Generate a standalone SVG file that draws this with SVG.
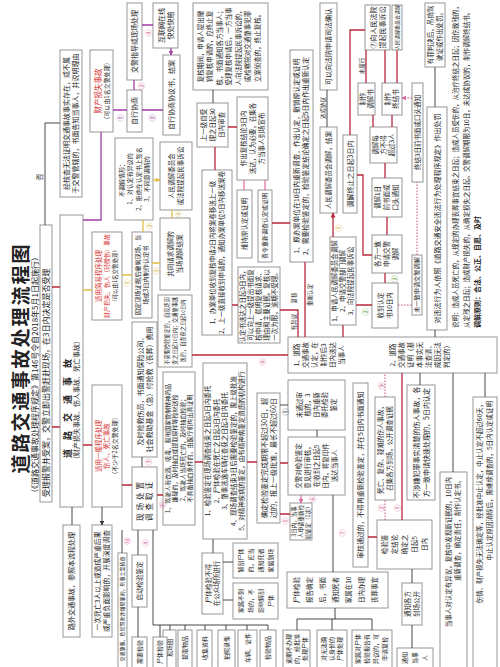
<svg xmlns="http://www.w3.org/2000/svg" width="500" height="667" viewBox="0 0 500 667">
<defs>
<style>
.b{fill:#fff;stroke:#8c8c8c;stroke-width:0.9}
.t{font-family:"Noto Sans CJK SC","Noto Sans CJK JP",sans-serif;font-size:6.5px;fill:#222;text-anchor:middle}
.s{text-anchor:start}
.e{text-anchor:end}
.r{fill:#d42a2a}
.lr{stroke:#b8283c;stroke-width:1.3;fill:none}
.lp{stroke:#a23ca6;stroke-width:1.3;fill:none}
.ly{stroke:#e2bd45;stroke-width:1.3;fill:none}
.lk{stroke:#333;stroke-width:0.9;fill:none}
.li{stroke:#d9609a;stroke-width:1.1;fill:none}
.ld{stroke:#c8507a;stroke-width:1;stroke-dasharray:1.5 1.5;fill:none}
.c{font-family:"Noto Sans CJK SC","Noto Sans CJK JP",sans-serif;font-size:7px;fill:#d9609a;text-anchor:middle}
.cy{fill:#d9b030}
.cp{fill:#a23ca6}
</style>
<marker id="ar" viewBox="0 0 10 10" refX="9" refY="5" markerWidth="5" markerHeight="5" markerUnits="userSpaceOnUse" orient="auto"><path d="M0,0L10,5L0,10z" fill="#b8283c"/></marker>
<marker id="ap" viewBox="0 0 10 10" refX="9" refY="5" markerWidth="5" markerHeight="5" markerUnits="userSpaceOnUse" orient="auto"><path d="M0,0L10,5L0,10z" fill="#a23ca6"/></marker>
<marker id="ay" viewBox="0 0 10 10" refX="9" refY="5" markerWidth="5" markerHeight="5" markerUnits="userSpaceOnUse" orient="auto"><path d="M0,0L10,5L0,10z" fill="#e2bd45"/></marker>
<marker id="ak" viewBox="0 0 10 10" refX="9" refY="5" markerWidth="4.5" markerHeight="4.5" markerUnits="userSpaceOnUse" orient="auto"><path d="M0,0L10,5L0,10z" fill="#333"/></marker>
<marker id="ai" viewBox="0 0 10 10" refX="9" refY="5" markerWidth="4.5" markerHeight="4.5" markerUnits="userSpaceOnUse" orient="auto"><path d="M0,0L10,5L0,10z" fill="#d9609a"/></marker>
</defs>
<rect width="500" height="667" fill="#fff"/>

<g id="header">
<text class="t" style="font-size:19px;font-weight:700;letter-spacing:2px" transform="translate(27.6,358) rotate(-90)">道路交通事故处理流程图</text>
<text class="t s" style="font-size:8px" transform="translate(37.8,497) rotate(-90)">（《道路交通事故处理程序规定》第146号令自2018年5月1日起施行）</text>
</g>

<g id="n-slbj"><rect class="b" x="40" y="225" width="12" height="277"/><text class="t s" style="font-size:8px" transform="translate(48.8,497) rotate(-90)">受理报警并受案，交警立即出警赶赴现场，在3日内决定是否受理</text></g>
<g id="n-hc"><rect class="b" x="60" y="50" width="22" height="147"/><text class="t" style="font-size:7px" transform="translate(69,123.5) rotate(-90)"><tspan x="0" y="0">经核查无法证明交通事故事实存在，或不属</tspan><tspan x="0" y="9">于交警管辖的，书面告知当事人，并说明理由</tspan></text></g>
<g id="n-sg"><rect class="b" x="60" y="215" width="23" height="292"/><text class="t" style="font-size:9px;font-weight:700;letter-spacing:9px" transform="translate(70.6,404) rotate(-90)">道路交通事故</text><text class="t" style="font-size:7px" transform="translate(79.4,400) rotate(-90)">（财产损失事故、伤人事故、死亡事故）</text></g>
<g id="n-cc"><rect class="b" x="90" y="50" width="23" height="82"/><text class="t r" style="font-size:7.5px" transform="translate(100.6,91) rotate(-90)">财产损失事故</text><text class="t" style="font-size:6px" transform="translate(108.6,91) rotate(-90)">（可以由1名交警处理）</text></g>
<g id="n-jy"><rect class="b" x="92" y="232" width="30" height="88"/><text class="t r" transform="translate(101.3,276) rotate(-90)">适用简易程序处理</text><text class="t r" style="font-size:6px" transform="translate(109.1,276) rotate(-90)">财产损失、伤人（轻微伤）事故</text><text class="t" style="font-size:5.5px" transform="translate(116.9,276) rotate(-90)">（可以由1名交警处理）</text></g>
<g id="n-yb"><rect class="b" x="92" y="385" width="30" height="122"/><text class="t r" transform="translate(101.3,446) rotate(-90)">适用一般程序处理</text><text class="t r" transform="translate(109.3,446) rotate(-90)">伤人、死亡事故</text><text class="t" style="font-size:6px" transform="translate(117.1,446) rotate(-90)">（不少于2名交警处理）</text></g>
<g id="n-zd"><rect class="b" x="127" y="3" width="15" height="77"/><text class="t" style="font-size:7px" transform="translate(137,41.5) rotate(-90)">交警指导或现场处理</text></g>
<g id="n-zx"><rect class="b" x="127" y="90" width="15" height="42"/><text class="t" style="font-size:7px" transform="translate(137,111) rotate(-90)">自行协商</text></g>
<g id="n-hl"><rect class="b" x="153" y="3" width="25" height="45"/><text class="t" style="font-size:7px" transform="translate(163.5,25.5) rotate(-90)"><tspan x="0" y="0">互联网在线</tspan><tspan x="0" y="9">快处快赔</tspan></text></g>
<g id="n-xy"><rect class="b" x="163" y="55" width="17" height="80"/><text class="t" style="font-size:7px" transform="translate(174,95) rotate(-90)">自行协商协议书，结案</text></g>
<g id="n-btj"><rect class="b" x="115" y="138" width="38" height="82"/><text class="t" style="font-size:6px" transform="translate(123.6,179) rotate(-90)"><tspan x="0" y="0">不调解情形：</tspan><tspan x="0" y="8.5">1、对认定有异议的</tspan><tspan x="0" y="17">2、拒绝在认定书上签名</tspan><tspan x="0" y="25.5">3、不同意调解的</tspan></text></g>
<g id="n-gd"><rect class="b" x="132" y="232" width="20" height="86"/><text class="t" style="font-size:6.2px" transform="translate(140.2,275) rotate(-90)"><tspan x="0" y="0">固定现场证据后撤离现场，当</tspan><tspan x="0" y="8">场或3日内制作认定书</tspan></text></g>
<g id="n-rt"><rect class="b" x="160" y="142" width="32" height="68"/><text class="t" transform="translate(173.8,176) rotate(-90)"><tspan x="0" y="0">人民调解委员会</tspan><tspan x="0" y="9">或法院提起民事诉讼</tspan></text></g>
<g id="n-gt"><rect class="b" x="160" y="218" width="30" height="72"/><text class="t" transform="translate(172.8,254) rotate(-90)"><tspan x="0" y="0">共同请求调解的</tspan><tspan x="0" y="9">当场调解结案</tspan></text></g>
<g id="n-bx"><rect class="b" x="158" y="295" width="34" height="72"/><text class="t" style="font-size:5.2px" transform="translate(168.8,331) rotate(-90)"><tspan x="0" y="0">不需要检验鉴定的，自现场调</tspan><tspan x="0" y="8">查之日起10日内；交通肇事逃</tspan><tspan x="0" y="16">逸的，自查获之日起10日内</tspan></text></g>
<g id="n-jq"><rect class="b" x="132" y="322" width="25" height="135"/><text class="t" style="font-size:7px" transform="translate(142.5,389.5) rotate(-90)"><tspan x="0" y="0">及时抢救伤员，书面通知保险公司、</tspan><tspan x="0" y="9">社会救助基金（急）付抢救（丧葬）费用</tspan></text></g>
<g id="n-xc"><rect class="b" x="132" y="467" width="25" height="63"/><text class="t" style="font-size:7.5px;letter-spacing:3px" transform="translate(142.6,500) rotate(-90)"><tspan x="0" y="0">现场处置</tspan><tspan x="0" y="9">调查取证</tspan></text></g>
<g id="n-jsr"><rect class="b" x="163" y="372" width="32" height="153"/><text class="t" style="font-size:6px" transform="translate(169.9,448.5) rotate(-90)"><tspan x="0" y="0">1、驾驶人有饮酒、吸毒、服用国家管制精神药品</tspan><tspan x="0" y="7.5">嫌疑的，及时抽血或提取尿样等检材送检</tspan><tspan x="0" y="15">2、驾驶人当场死亡的，及时抽血检验；</tspan><tspan x="0" y="22.5">不具备抽血条件的，由医疗机构出具证明</tspan></text></g>
<g id="n-5x"><rect class="b" x="203" y="363" width="44" height="176"/><text class="t" transform="translate(210.3,451) rotate(-90)"><tspan x="0" y="0">1、检验鉴定在现场调查结束之日起3日内委托</tspan><tspan x="0" y="8.5">2、尸体检验在死亡之日起3日内委托</tspan><tspan x="0" y="17">3、肇事逃逸车辆在查获之日起3日内委托</tspan><tspan x="0" y="25.5">4、现场调查结束3日后需要检验鉴定的，需上级批准</tspan><tspan x="0" y="34">5、对精神疾病的鉴定，由有精神病鉴定资质的机构进行</tspan></text></g>
<g id="n-qd"><rect class="b" x="257" y="393" width="23" height="130"/><text class="t" style="font-size:7px" transform="translate(266.5,458) rotate(-90)"><tspan x="0" y="0">确定检验鉴定完成期限不超过30日，超</tspan><tspan x="0" y="9">过的，报上一级批准，最长不超过60日</tspan></text></g>
<g id="n-sj"><rect class="b" x="202" y="553" width="21" height="61"/><text class="t" transform="translate(210.5,583.5) rotate(-90)"><tspan x="0" y="0">尸体检验不得</tspan><tspan x="0" y="8.5">在公众场所进行</tspan></text></g>
<g id="n-jp1"><rect class="b" x="233" y="543" width="45" height="35"/><text class="t" style="font-size:6px" transform="translate(242.6,560.5) rotate(-90)"><tspan x="0" y="0">解剖尸体</tspan><tspan x="0" y="10">的，应当</tspan><tspan x="0" y="20">通知死者</tspan><tspan x="0" y="30">家属到场</tspan></text></g>
<g id="n-jp2"><rect class="b" x="233" y="583" width="45" height="36"/><text class="t" style="font-size:6px" transform="translate(242.6,601) rotate(-90)"><tspan x="0" y="0">家属不到</tspan><tspan x="0" y="10">场的，不</tspan><tspan x="0" y="20">影响解剖</tspan><tspan x="0" y="30">尸体</tspan></text></g>
<g id="n-bot1"><rect class="b" x="163" y="630" width="13" height="40"/><text class="t" style="font-size:6px" transform="translate(171.6,648) rotate(-90)">现场图</text></g>
<g id="n-bot2"><rect class="b" x="178" y="630" width="14" height="40"/><text class="t" style="font-size:6px" transform="translate(187.1,648) rotate(-90)">提取物品</text></g>
<g id="n-bot3"><rect class="b" x="197" y="630" width="15" height="40"/><text class="t" style="font-size:6px" transform="translate(206.6,648) rotate(-90)">收集资料</text></g>
<g id="n-bot4"><rect class="b" x="218" y="630" width="17" height="40"/><text class="t" style="font-size:6px" transform="translate(228.6,648) rotate(-90)">拍照录像</text></g>
<g id="n-bot5"><rect class="b" x="238" y="630" width="19" height="40"/><text class="t" style="font-size:6px" transform="translate(249.6,648) rotate(-90)">车辆、证件</text></g>
<g id="n-bot6"><rect class="b" x="260" y="630" width="16" height="40"/><text class="t" style="font-size:6px" transform="translate(270.1,648) rotate(-90)">检验物品</text></g>
<g id="n-xs"><rect class="b" x="118" y="553" width="9" height="117"/><text class="t" style="font-size:5px" transform="translate(124.25,609) rotate(-90)">交通肇事、危险驾驶涉嫌犯罪的，刑事立案侦查</text></g>
<g id="n-qj"><rect class="b" x="132" y="555" width="15" height="52"/><text class="t" transform="translate(141.8,581) rotate(-90)">启动检验鉴定</text></g>
<g id="n-xj"><rect class="b" x="132" y="637" width="15" height="33"/><text class="t" style="font-size:6px" transform="translate(141.6,652) rotate(-90)">需要检验</text></g>
<g id="n-st"><rect class="b" x="153" y="637" width="14" height="33"/><text class="t" style="font-size:6px" transform="translate(162.1,652) rotate(-90)">尸体检验</text></g>
<g id="n-lw"><rect class="b" x="63" y="525" width="17" height="112"/><text class="t" style="font-size:7px" transform="translate(74,581) rotate(-90)">路外交通事故，参照本流程处理</text></g>
<g id="n-ys"><rect class="b" x="92" y="525" width="20" height="112"/><text class="t" style="font-size:6.8px" transform="translate(100.1,581) rotate(-90)"><tspan x="0" y="0">一次死亡3人以上或造成严重后果</tspan><tspan x="0" y="8.5">或严重负面影响的，开展深度调查</tspan></text></g>
<g id="n-fhqj"><rect class="b" x="193" y="3" width="75" height="87"/><text class="t" transform="translate(202.8,46.5) rotate(-90)"><tspan x="0" y="0">复核期间，申请人提出撤</tspan><tspan x="0" y="9.5">销复核申请的，应终止复</tspan><tspan x="0" y="19">核，书面通知各方当事人；</tspan><tspan x="0" y="28.5">受理复核申请后，一方当事</tspan><tspan x="0" y="38">人向法院提起民事诉讼的，</tspan><tspan x="0" y="47.5">或检察院对交通肇事犯罪</tspan><tspan x="0" y="57">立案侦查的，终止复核。</tspan></text></g>
<g id="n-sjy"><rect class="b" x="197" y="103" width="31" height="44"/><text class="t" transform="translate(205.8,125) rotate(-90)"><tspan x="0" y="0">上一级自受</tspan><tspan x="0" y="9">理之日起30</tspan><tspan x="0" y="18">日内审查</tspan></text></g>
<g id="n-zcfh"><rect class="b" x="237" y="97" width="31" height="83"/><text class="t" transform="translate(245.8,138.5) rotate(-90)"><tspan x="0" y="0">作出复核结论3日内</tspan><tspan x="0" y="9">送达，认为必要，召集各</tspan><tspan x="0" y="18">方当事人到场宣布</tspan></text></g>
<g id="n-wc"><rect class="b" x="237" y="190" width="15" height="68"/><text class="t" transform="translate(246.8,224) rotate(-90)">维持原认定或证明</text></g>
<g id="n-zl"><rect class="b" x="258" y="190" width="14" height="72"/><text class="t" style="font-size:6px" transform="translate(267.1,226) rotate(-90)">责令重新调查认定或证明</text></g>
<g id="n-1yb"><rect class="b" x="290" y="50" width="23" height="212"/><text class="t" style="font-size:6.8px" transform="translate(299.4,156) rotate(-90)"><tspan x="0" y="0">1、原办案单位在10日内重新调查，作出认定，撤销原认定或证明</tspan><tspan x="0" y="9">2、需要检验鉴定的，检验鉴定结论确定之日起5日内作出重新认定</tspan></text></g>
<g id="n-1bd"><rect class="b" x="202" y="170" width="30" height="165"/><text class="t" transform="translate(214.5,252.5) rotate(-90)"><tspan x="0" y="0">1、办案单位收到复核申请2日内将案卷移送上一级</tspan><tspan x="0" y="9.5">2、上一级直接收到申请的，通知办案单位5日内移送案卷</tspan></text></g>
<g id="n-gwfh"><rect class="b" x="238" y="267" width="42" height="76"/><text class="t" transform="translate(245.3,305) rotate(-90)"><tspan x="0" y="0">认定书送达之日起3日内，</tspan><tspan x="0" y="8">可以向上一级提出书面复</tspan><tspan x="0" y="16">核申请，载明复核请求、</tspan><tspan x="0" y="24">理由和主要证据。复核以</tspan><tspan x="0" y="32">一次为限，逾期不受理。</tspan></text></g>
<g id="n-rd"><rect class="b" x="288" y="337" width="209" height="36"/><text class="t" transform="translate(299.3,355) rotate(-90)"><tspan x="0" y="0">1、道路</tspan><tspan x="0" y="9">交通事故</tspan><tspan x="0" y="18">认定，在</tspan><tspan x="0" y="27">制作后3</tspan><tspan x="0" y="36">日内送达</tspan><tspan x="0" y="45">当事人</tspan></text><text class="t" transform="translate(395.3,355) rotate(-90)"><tspan x="0" y="0">2、道路</tspan><tspan x="0" y="9">交通事故</tspan><tspan x="0" y="18">证明（基</tspan><tspan x="0" y="27">本事实无</tspan><tspan x="0" y="36">法查清、</tspan><tspan x="0" y="45">成因无法</tspan><tspan x="0" y="54">判定的）</tspan></text></g>
<g id="n-wtg"><rect class="b" x="288" y="380" width="57" height="50"/><text class="t" transform="translate(301.8,405) rotate(-90)"><tspan x="0" y="0">未通过审</tspan><tspan x="0" y="8.5">核的，3</tspan><tspan x="0" y="17">日内重新</tspan><tspan x="0" y="25.5">委托检验</tspan><tspan x="0" y="34">鉴定</tspan></text></g>
<g id="n-jjd"><rect class="b" x="288" y="437" width="57" height="58"/><text class="t" transform="translate(300.8,466) rotate(-90)"><tspan x="0" y="0">交警对检验鉴定</tspan><tspan x="0" y="9">意见进行审核，</tspan><tspan x="0" y="18">在收到之日起5</tspan><tspan x="0" y="27">日内，将复印件</tspan><tspan x="0" y="36">送达当事人</tspan></text></g>
<g id="n-3r"><rect class="b" x="290" y="503" width="22" height="37"/><text class="t" style="font-size:5.5px" transform="translate(295.9,521.5) rotate(-90)"><tspan x="0" y="0">3日内，当事</tspan><tspan x="0" y="7">人申请重新检</tspan><tspan x="0" y="14">验鉴定（1次）</tspan></text></g>
<g id="n-sjbg"><rect class="b" x="287" y="572" width="101" height="36"/><text class="t" transform="translate(299.3,590) rotate(-90)"><tspan x="0" y="0">尸体检验</tspan><tspan x="0" y="13">报告确定</tspan><tspan x="0" y="26">后，书面</tspan><tspan x="0" y="39">通知死者</tspan><tspan x="0" y="52">家属在10</tspan><tspan x="0" y="65">日内办理</tspan><tspan x="0" y="78">丧葬事宜</tspan></text></g>
<g id="n-b1"><rect class="b" x="283" y="630" width="27" height="40"/><text class="t" style="font-size:6px" transform="translate(290.6,649) rotate(-90)"><tspan x="0" y="0">逾期不办理</tspan><tspan x="0" y="8">的，经批准</tspan><tspan x="0" y="16">处理尸体</tspan></text></g>
<g id="n-b2"><rect class="b" x="317" y="630" width="30" height="40"/><text class="t" style="font-size:6px" transform="translate(326.1,649) rotate(-90)"><tspan x="0" y="0">对无法确</tspan><tspan x="0" y="8">认身份的</tspan><tspan x="0" y="16">尸体处理</tspan></text></g>
<g id="n-b3"><rect class="b" x="352" y="630" width="40" height="40"/><text class="t" style="font-size:6px" transform="translate(360.1,649) rotate(-90)"><tspan x="0" y="0">家属对尸体</tspan><tspan x="0" y="9">检验报告有</tspan><tspan x="0" y="18">异议的，可</tspan><tspan x="0" y="27">申请复检</tspan></text></g>
<g id="n-b4"><rect class="b" x="397" y="648" width="36" height="22"/><text class="t" style="font-size:6px" transform="translate(407.1,658) rotate(-90)"><tspan x="0" y="0">通知</tspan><tspan x="0" y="10">当事</tspan><tspan x="0" y="20">人</tspan></text></g>
<g id="n-shtg"><rect class="b" x="353" y="383" width="15" height="184"/><text class="t" style="font-size:6.8px" transform="translate(362.9,475) rotate(-90)">审核通过的，不得再重新检验鉴定，并在5日内书面通知</text></g>
<g id="n-jl"><rect class="b" x="377" y="520" width="55" height="49"/><text class="t" transform="translate(386.8,544.5) rotate(-90)"><tspan x="0" y="0">检验鉴</tspan><tspan x="0" y="10">定结论</tspan><tspan x="0" y="20">确定之</tspan><tspan x="0" y="30">日起5</tspan><tspan x="0" y="40">日内</tspan></text></g>
<g id="n-tz"><rect class="b" x="402" y="583" width="20" height="42"/><text class="t" transform="translate(409.8,604) rotate(-90)"><tspan x="0" y="0">通知各方</tspan><tspan x="0" y="9">到场公开</tspan></text></g>
<g id="n-swfz"><rect class="b" x="375" y="397" width="20" height="103"/><text class="t" transform="translate(382.8,448.5) rotate(-90)"><tspan x="0" y="0">死亡、复杂、疑难的伤人事故，</tspan><tspan x="0" y="9">召集各方到场，公开调查证据</tspan></text></g>
<g id="n-bsx"><rect class="b" x="407" y="385" width="28" height="115"/><text class="t" style="font-size:7px" transform="translate(418.5,442.5) rotate(-90)"><tspan x="0" y="0">不涉嫌犯罪事实清楚的伤人事故，各</tspan><tspan x="0" y="10">方一致申请快速处理的，5日内认定</tspan></text></g>
<g id="n-b5"><rect class="b" x="440" y="472" width="27" height="200"/><text class="t e" transform="translate(451.3,477) rotate(-90)"><tspan x="0" y="0">当事人对认定有异议，复核中发现新证据的，10日内</tspan><tspan x="0" y="9">重新调查，确定责任，制作认定书。</tspan></text></g>
<g id="n-b6"><rect class="b" x="473" y="397" width="24" height="275"/><text class="t e" transform="translate(482.3,401) rotate(-90)"><tspan x="0" y="0">伤情、财产损失无法确定等，经批准中止认定，中止认定不超过60天，</tspan><tspan x="0" y="10">中止认定原因消除后，需继续调查的，5日内认定或证明</tspan></text></g>
<g id="n-wf"><rect class="b" x="427" y="107" width="20" height="223"/><text class="t" style="font-size:7px" transform="translate(439.5,218.5) rotate(-90)">对违法行为人依照《道路交通安全违法行为处理程序规定》作出处罚</text></g>
<g id="n-yz"><rect class="b" x="425" y="3" width="20" height="64"/><text class="t" transform="translate(433.3,35) rotate(-90)"><tspan x="0" y="0">有罪判决后，吊销驾</tspan><tspan x="0" y="8.5">驶证或作出处罚。</tspan></text></g>
<g id="note"><text class="t s" transform="translate(458.3,328) rotate(-90)"><tspan x="0" y="0">说明：造成人员死亡的，从规定的办理丧葬事宜结束之日起；造成人员受伤的，从治疗终结之日起；因伤致残的，</tspan><tspan x="0" y="11">从定残之日起；造成财产损失的，从确定损失之日起。交警调解期限为10日，未达成协议的，制作调解终结书。</tspan><tspan x="0" y="22" style="font-weight:700;font-size:7px">调解原则：合法、公正、自愿、及时</tspan></text></g>
<g id="n-qf"><rect class="b" x="320" y="3" width="17" height="87"/><text class="t" style="font-size:7px" transform="translate(331,46.5) rotate(-90)">可以向法院申请司法确认</text></g>
<g id="n-rm"><rect class="b" x="320" y="127" width="17" height="86"/><text class="t" transform="translate(330.8,170) rotate(-90)">人民调解委员会调解，结案</text></g>
<g id="n-tzz"><rect class="b" x="343" y="135" width="14" height="78"/><text class="t" style="font-size:7px" transform="translate(352.5,174) rotate(-90)">调解终止之日起3日内</text></g>
<g id="n-q7"><rect class="b" x="365" y="5" width="25" height="45"/><text class="t" style="font-size:7px" transform="translate(375.5,27.5) rotate(-90)"><tspan x="0" y="0">⑦向人民法院</tspan><tspan x="0" y="9">提起民事诉讼</tspan></text></g>
<g id="n-rmtj"><rect class="b" x="392" y="5" width="10" height="45"/><text class="t" style="font-size:5px" transform="translate(398.75,27.5) rotate(-90)">人民调解委员会调解</text></g>
<g id="n-zz"><rect class="b" x="358" y="83" width="17" height="32"/><text class="t" transform="translate(364.8,99) rotate(-90)"><tspan x="0" y="0">制作</tspan><tspan x="0" y="8">调解书</tspan></text></g>
<g id="n-zj2"><rect class="b" x="382" y="83" width="20" height="32"/><text class="t" transform="translate(390.3,99) rotate(-90)"><tspan x="0" y="0">制作</tspan><tspan x="0" y="8">终结书</tspan></text></g>
<g id="n-mf"><rect class="b" x="370" y="127" width="27" height="36"/><text class="t" transform="translate(378.3,145) rotate(-90)"><tspan x="0" y="0">调解每</tspan><tspan x="0" y="8">方不得</tspan><tspan x="0" y="16">超过3人</tspan></text></g>
<g id="n-1r"><rect class="b" x="372" y="178" width="30" height="39"/><text class="t" transform="translate(380.3,197.5) rotate(-90)"><tspan x="0" y="0">调解1日</tspan><tspan x="0" y="9">前书面或</tspan><tspan x="0" y="18">口头通知</tspan></text></g>
<g id="n-gf"><rect class="b" x="372" y="235" width="30" height="38"/><text class="t" transform="translate(380.3,254) rotate(-90)"><tspan x="0" y="0">各方一致</tspan><tspan x="0" y="9">申请交警</tspan><tspan x="0" y="18">调解</tspan></text></g>
<g id="n-sd"><rect class="b" x="372" y="283" width="26" height="45"/><text class="t" transform="translate(382.8,305.5) rotate(-90)"><tspan x="0" y="0">收到认定</tspan><tspan x="0" y="9">书10日内</tspan></text></g>
<g id="n-sq"><rect class="b" x="330" y="237" width="26" height="88"/><text class="t" transform="translate(337.3,281) rotate(-90)"><tspan x="0" y="0">1、申请人民调解委员会调解</tspan><tspan x="0" y="8">2、申请交警部门调解</tspan><tspan x="0" y="16">3、向法院提起民事诉讼</tspan></text></g>
<g id="n-zj3"><rect class="b" x="412" y="83" width="11" height="99"/><text class="t" transform="translate(419.8,132.5) rotate(-90)">终结3日前书面或口头通知</text></g>
<g id="n-wyz"><rect class="b" x="412" y="255" width="10" height="60"/><text class="t" style="font-size:6.2px" transform="translate(419.2,285) rotate(-90)">未一致申请交警调解</text></g>

<g id="connectors">
<path class="lr" marker-end="url(#ar)" d="M52,427H60M52,287H60M83,445H92M122,485H132M157,495H163M195,462H203M247,462H257M280,463H288M192,355H288M290,514H280M238,305H232M215,170V147M228,127H237M272,223H290M305,262V337M298,337V310H280M377,537H368M402,520V373M356,305H372M385,283V273M387,235V217M385,178V163M373,127V115M392,127V115M366,83V50M385,83V50M397,83V50M350,135V30H365M357,175H363V255H372M343,337V325M333,237V213"/>
<path class="lp" marker-end="url(#ap)" d="M83,220H101V132M113,110H127M142,110H163M134,90V80M142,25H153M171,48V55"/>
<path class="ly" marker-end="url(#ay)" d="M83,290H92M122,275H132M143,232V220M152,263H160M172,218V210M153,180H160"/>
<path class="lk" marker-end="url(#ak)" d="M45,225V123H60M142,467V457M213,539V553M223,562H233M223,600H233M122,530V553M138,530V555M153,530V625H268M170,625V630M185,625V630M205,625V630M226,625V630M247,625V630M268,625V630M160,625V637M138,607V637M288,405H280M317,437V430M333,495V572M335,608V619H297V630M332,619V630M335,619H372V630M412,569V583M412,625V648M420,385V373M453,472V373M485,397V373M435,337V330M435,107V67M213,103V90M327,127V90M72,525V507M102,507V525"/>
<path class="li" marker-end="url(#ai)" d="M244,180V190M265,180V190M301,495V503"/>
<path class="ld" marker-end="url(#ai)" d="M385,520V500M385,397V373M398,305H412M417,255V182M412,98H402"/>
</g>

<g id="labels">
<text class="t" style="font-size:7px" transform="translate(41.5,177) rotate(-90)">否</text>
<text class="t" style="font-size:5.5px" transform="translate(363.9,66) rotate(-90)">未履行</text>
<text class="t" style="font-size:5.5px" transform="translate(324.9,108) rotate(-90)">达成协议</text>
<text class="t" style="font-size:5.5px" transform="translate(295.9,322) rotate(-90)">有异议</text>
<text class="t" style="font-size:5.5px" transform="translate(295.9,298) rotate(-90)">复核</text>
<text class="t" style="font-size:5.5px" transform="translate(311.9,295) rotate(-90)">重新认定</text>
<text class="c cp" transform="translate(122.5,118) rotate(-90)">①</text>
<text class="c" transform="translate(143.5,86) rotate(-90)">②</text>
<text class="c cp" transform="translate(154.5,118) rotate(-90)">③</text>
<text class="c" transform="translate(150.5,33) rotate(-90)">④</text>
<text class="c cy" transform="translate(129.5,283) rotate(-90)">①</text>
<text class="c cy" transform="translate(151.5,226) rotate(-90)">②</text>
<text class="c cy" transform="translate(158.5,271) rotate(-90)">③</text>
<text class="c cy" transform="translate(180.5,214) rotate(-90)">④</text>
<text class="c" transform="translate(150.5,462) rotate(-90)">③</text>
<text class="c" transform="translate(164.5,505) rotate(-90)">⑪</text>
<text class="c" transform="translate(129.5,541) rotate(-90)">⑩</text>
<text class="c" transform="translate(147.5,543) rotate(-90)">④</text>
<text class="c" transform="translate(264.5,362) rotate(-90)">⑧</text>
<text class="c" transform="translate(287.5,521) rotate(-90)">⑤</text>
<text class="c" style="fill:#333" transform="translate(287.5,412) rotate(-90)">①</text>
<text class="c" transform="translate(314.5,499) rotate(-90)">⑥</text>
<text class="c" transform="translate(344.5,533) rotate(-90)">⑦</text>
<text class="c" transform="translate(399.5,508) rotate(-90)">①</text>
<text class="c" transform="translate(383.5,508) rotate(-90)">②</text>
<text class="c" transform="translate(383.5,386) rotate(-90)">⑨</text>
<text class="c" style="fill:#60a040" transform="translate(367.5,312) rotate(-90)">②</text>
<text class="c" style="fill:#60a040" transform="translate(396.5,279) rotate(-90)">②</text>
<text class="c" style="fill:#d9b030" transform="translate(340.5,228) rotate(-90)">①</text>
</g>
</svg>
